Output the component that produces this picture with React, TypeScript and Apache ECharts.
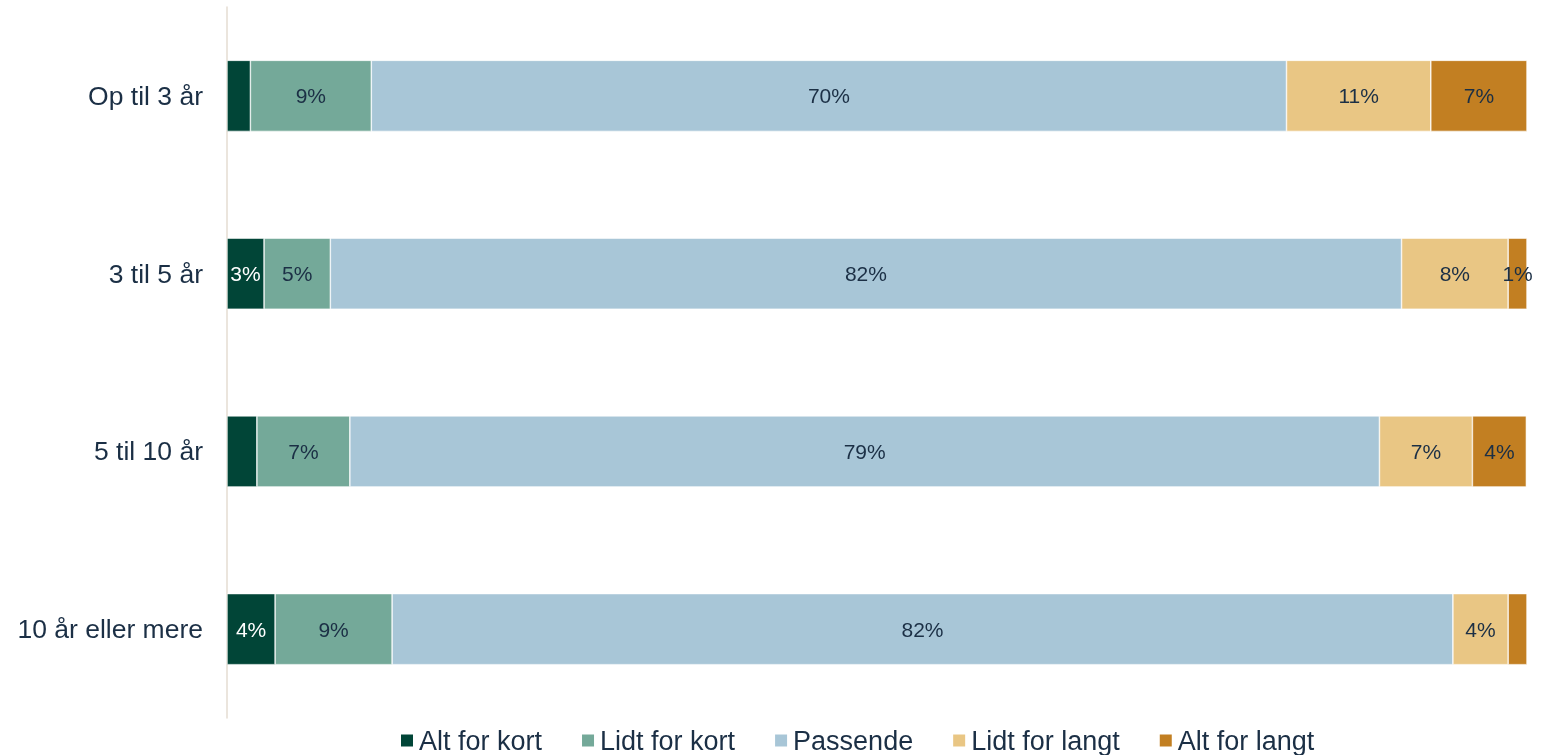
import React, { useEffect, useRef } from "react";
import * as echarts from "echarts";

const categories = ["Op til 3 år", "3 til 5 år", "5 til 10 år", "10 år eller mere"];
const seriesNames = ["Alt for kort", "Lidt for kort", "Passende", "Lidt for langt", "Alt for langt"];
const colors = ["#014537", "#74a999", "#a8c6d7", "#e9c684", "#c27f22"];
const altForKort = [1.8, 2.85, 2.3, 3.7];
const lidtForKort = [9.3, 5.1, 7.15, 9.0];
const passende = [70.4, 82.4, 79.2, 81.6];
const lidtForLangt = [11.1, 8.2, 7.15, 4.25];
const altForLangt = [7.4, 1.45, 4.15, 1.45];
// which labels are shown (per series, per category)
const showLabels = [
  [false, true, false, true],
  [true, true, true, true],
  [true, true, true, true],
  [true, true, true, true],
  [true, true, true, false],
];

const FONT = "'Liberation Sans', Arial, sans-serif";
const TEXT = "#1b2f45";

export default function App() {
  const ref = useRef<HTMLDivElement>(null);
  useEffect(() => {
    if (!ref.current) return;
    const chart = echarts.init(ref.current, null, { renderer: "svg" });
    const values = [altForKort, lidtForKort, passende, lidtForLangt, altForLangt];
    chart.setOption({
      animation: false,
      textStyle: { fontFamily: FONT },
      grid: { left: 227, right: 28, top: 7, bottom: 37 },
      legend: {
        left: 399,
        top: 727,
        padding: 0,
        icon: "rect",
        itemWidth: 14,
        itemHeight: 14,
        itemGap: 38,
        textStyle: { fontSize: 27, color: TEXT, fontFamily: FONT },
        data: seriesNames,
      },
      xAxis: {
        type: "value",
        min: 0,
        max: 100,
        show: false,
      },
      yAxis: {
        type: "category",
        data: categories,
        inverse: true,
        axisLine: { show: true, lineStyle: { color: "#e5ddd2", width: 1.5 } },
        axisTick: { show: false },
        axisLabel: { fontSize: 26.5, color: TEXT, margin: 24, fontFamily: FONT },
      },
      series: seriesNames.map((name, i) => ({
        name,
        type: "bar",
        stack: "total",
        barWidth: "40%",
        itemStyle: { color: colors[i], borderColor: "#ffffff", borderWidth: 0.6 },
        label: {
          show: true,
          position: "inside",
          fontSize: 21,
          fontFamily: FONT,
          color: i === 0 ? "#ffffff" : TEXT,
          formatter: (p: any) => Math.round(p.value) + "%",
        },
        data: values[i].map((v, j) => ({
          value: v,
          label: { show: showLabels[i][j] },
        })),
      })),
    });
    return () => chart.dispose();
  }, []);
  return (
    <div
      ref={ref}
      style={{ position: "fixed", left: 0, top: 0, width: 1555, height: 755 }}
    />
  );
}
